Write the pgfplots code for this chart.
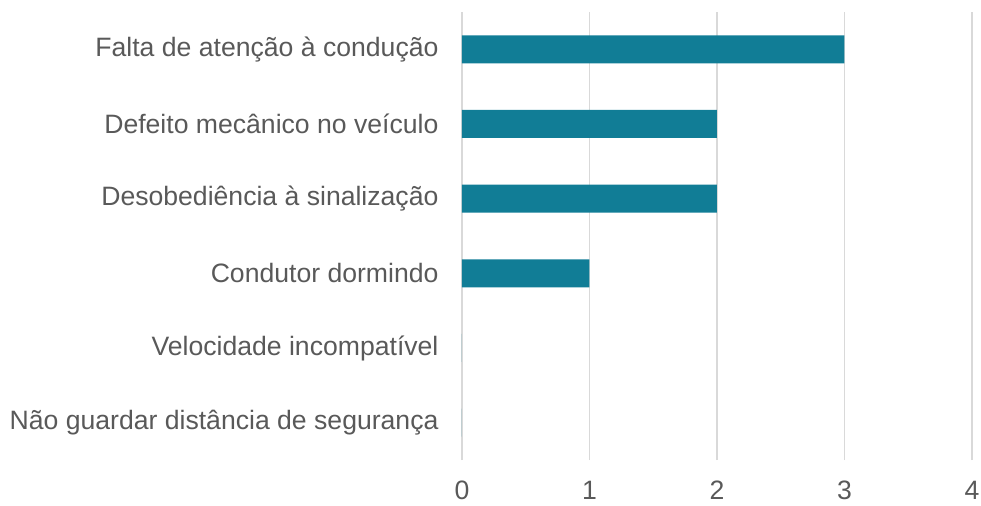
\documentclass[border=0pt]{standalone}
\usepackage{fontspec}
\setmainfont{Liberation Sans}
\usepackage{pgfplots}
\pgfplotsset{compat=1.18}
\definecolor{barc}{HTML}{117D96}
\definecolor{gridc}{HTML}{D9D9D9}
\definecolor{txt}{HTML}{595959}
\begin{document}
\begin{tikzpicture}
\begin{axis}[
  name=ax,
  xbar,
  scale only axis,
  width=510bp, height=448bp,
  xmin=0, xmax=4,
  ymin=-0.5, ymax=5.5,
  xtick={0,1,2,3,4},
  ytick={0,1,2,3,4,5},
  yticklabels={Não guardar distância de segurança,Velocidade incompatível,Condutor dormindo,Desobediência à sinalização,Defeito mecânico no veículo,Falta de atenção à condução},
  axis line style={draw=none},
  major tick length=0pt,
  xmajorgrids,
  grid style={gridc, line width=1.5bp},
  bar width=28bp,
  font=\fontsize{26.6bp}{30bp}\selectfont,
  tick label style={txt},
  /pgf/number format/assume math mode=true,
  xticklabel style={inner sep=0pt, yshift=-21bp},
  yticklabel style={xshift=-20bp},
  clip=false,
]
\addplot[fill=barc, draw=none] coordinates {(0,0) (0,1) (1,2) (2,3) (2,4) (3,5)};
\end{axis}
\path[use as bounding box] ([xshift=-462bp,yshift=-46bp]ax.south west) rectangle ([xshift=9bp,yshift=12bp]ax.north east);
\end{tikzpicture}
\end{document}
